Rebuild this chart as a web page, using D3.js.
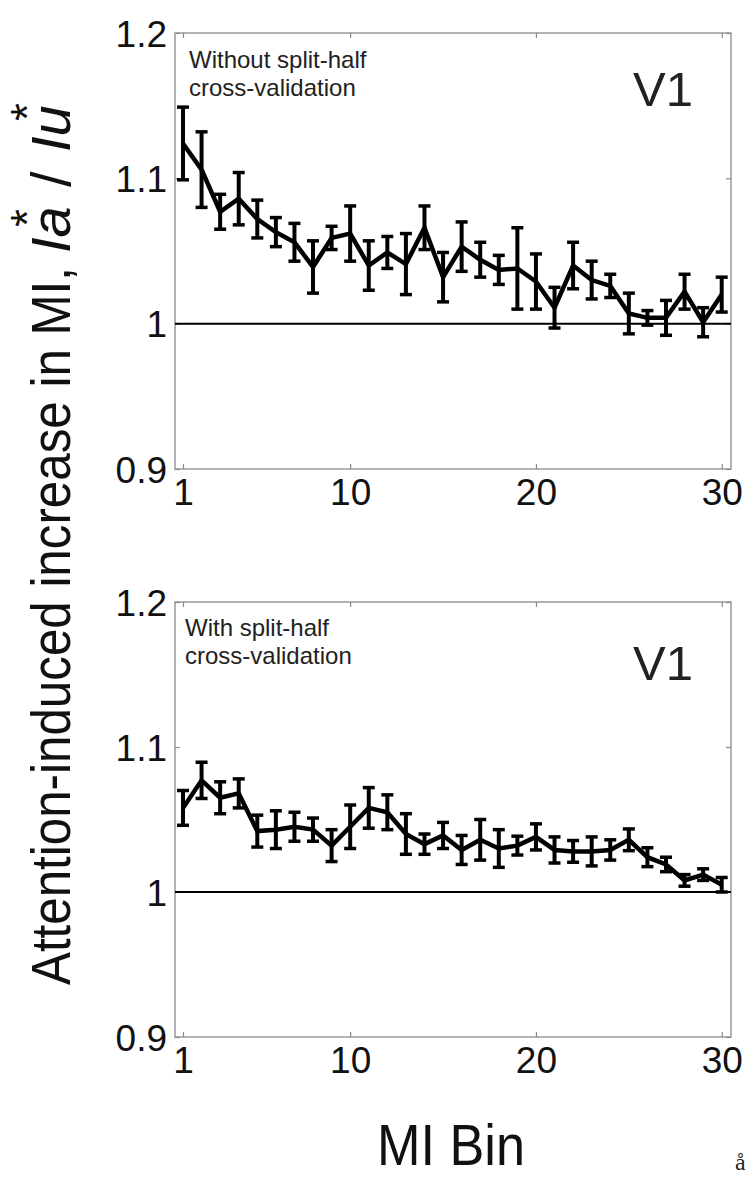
<!DOCTYPE html>
<html><head><meta charset="utf-8">
<script src="https://cdn.jsdelivr.net/npm/d3@7"></script>
<style>body{margin:0;background:#fff}</style>
</head><body>
<svg id="c" width="755" height="1180" xmlns="http://www.w3.org/2000/svg"></svg>
<script>
// ---- data ----
const bins = [1,2,3,4,5,6,7,8,9,10,11,12,13,14,15,16,17,18,19,20,21,22,23,24,25,26,27,28,29,30];
const topMean = [1.124,1.106,1.077,1.086,1.072,1.063,1.056,1.039,1.059,1.062,1.040,1.049,1.041,1.066,1.032,1.053,1.044,1.037,1.038,1.029,1.011,1.040,1.030,1.026,1.007,1.004,1.004,1.022,1.001,1.020];
const topErr  = [0.025,0.026,0.012,0.018,0.013,0.010,0.013,0.018,0.008,0.019,0.017,0.011,0.021,0.015,0.017,0.017,0.012,0.010,0.028,0.019,0.014,0.016,0.013,0.008,0.014,0.005,0.012,0.012,0.010,0.012];
const botMean = [1.058,1.077,1.065,1.068,1.042,1.043,1.045,1.043,1.032,1.045,1.058,1.055,1.040,1.033,1.039,1.029,1.036,1.030,1.032,1.038,1.029,1.028,1.028,1.029,1.036,1.024,1.019,1.008,1.012,1.005];
const botErr  = [0.012,0.0125,0.011,0.010,0.011,0.013,0.010,0.008,0.011,0.015,0.014,0.012,0.014,0.007,0.009,0.010,0.014,0.013,0.0065,0.009,0.009,0.0075,0.010,0.007,0.0075,0.0065,0.005,0.004,0.004,0.005];
const xTicks = [1,10,20,30];
const yTicks = [0.9,1.0,1.1,1.2];
const yTickLabels = ["0.9","1","1.1","1.2"];
const panels = [
  {mean: topMean, err: topErr, note: ["Without split-half","cross-validation"], area: "V1"},
  {mean: botMean, err: botErr, note: ["With split-half","cross-validation"], area: "V1"}
];

// ---- layout ----
const svg = d3.select("#c");
const L = 175, R = 731;
const panelBox = [{top: 33, bottom: 469}, {top: 602, bottom: 1037}];
const x = d3.scaleLinear().domain([0.57, 30.5]).range([L, R]);
const frameColor = "#8a8a8a";
const font = "'Liberation Sans', Arial, sans-serif";

panels.forEach((p, i) => {
  const box = panelBox[i];
  const y = d3.scaleLinear().domain([0.9, 1.2]).range([box.bottom, box.top]);
  const g = svg.append("g");

  // frame
  g.append("rect").attr("x", L).attr("y", box.top).attr("width", R - L).attr("height", box.bottom - box.top)
    .attr("fill", "none").attr("stroke", frameColor).attr("stroke-width", 1.3);

  // axes (ticks inward)
  const xb = d3.axisBottom(x).tickValues(xTicks).tickSizeInner(-5).tickSizeOuter(0).tickFormat(d3.format("d"));
  const xt = d3.axisTop(x).tickValues(xTicks).tickSizeInner(-5).tickSizeOuter(0).tickFormat("");
  const yl = d3.axisLeft(y).tickValues(yTicks).tickSizeInner(-5).tickSizeOuter(0).tickFormat((d, k) => yTickLabels[k]);
  const yr = d3.axisRight(y).tickValues(yTicks).tickSizeInner(-5).tickSizeOuter(0).tickFormat("");

  const ax = [
    g.append("g").attr("transform", `translate(0,${box.bottom})`).call(xb),
    g.append("g").attr("transform", `translate(0,${box.top})`).call(xt),
    g.append("g").attr("transform", `translate(${L},0)`).call(yl),
    g.append("g").attr("transform", `translate(${R},0)`).call(yr)
  ];
  ax.forEach(a => {
    a.select(".domain").remove();
    a.selectAll(".tick line").attr("stroke", frameColor).attr("stroke-width", 1.2);
    a.selectAll("text").attr("fill", "#111").style("font-family", font).style("font-size", "37px");
  });
  ax[0].selectAll("text").attr("y", 10).attr("dy", "0.71em");
  ax[2].selectAll("text").attr("x", -8).attr("dy", "0.36em");

  // reference line at 1
  g.append("line").attr("x1", L).attr("x2", R).attr("y1", y(1)).attr("y2", y(1))
    .attr("stroke", "#000").attr("stroke-width", 2);

  // error bars
  const data = bins.map((b, k) => ({b, m: p.mean[k], e: p.err[k]}));
  const eb = g.append("g").attr("stroke", "#000");
  eb.selectAll("line.v").data(data).join("line").attr("class", "v")
    .attr("x1", d => x(d.b)).attr("x2", d => x(d.b))
    .attr("y1", d => y(d.m - d.e)).attr("y2", d => y(d.m + d.e)).attr("stroke-width", 4);
  const cap = 6;
  eb.selectAll("line.ct").data(data).join("line").attr("class", "ct")
    .attr("x1", d => x(d.b) - cap).attr("x2", d => x(d.b) + cap)
    .attr("y1", d => y(d.m + d.e)).attr("y2", d => y(d.m + d.e)).attr("stroke-width", 3.5);
  eb.selectAll("line.cb").data(data).join("line").attr("class", "cb")
    .attr("x1", d => x(d.b) - cap).attr("x2", d => x(d.b) + cap)
    .attr("y1", d => y(d.m - d.e)).attr("y2", d => y(d.m - d.e)).attr("stroke-width", 3.5);

  // mean line
  g.append("path").datum(data)
    .attr("d", d3.line().x(d => x(d.b)).y(d => y(d.m)))
    .attr("fill", "none").attr("stroke", "#000").attr("stroke-width", 4.5).attr("stroke-linejoin", "miter");

  // annotation
  const nx = i === 0 ? 189 : 185;
  const ny = i === 0 ? 68 : 636;
  const t = g.append("text").attr("x", nx).attr("y", ny).attr("fill", "#222")
    .style("font-family", font).style("font-size", "24px");
  p.note.forEach((s, k) => t.append("tspan").attr("x", nx).attr("dy", k === 0 ? 0 : 28).text(s));

  g.append("text").attr("x", 693).attr("y", i === 0 ? 106 : 680).attr("text-anchor", "end")
    .attr("fill", "#222").style("font-family", font).style("font-size", "49px").text(p.area);
});

// y label (rotated)
const narrow = "'Liberation Sans Narrow', 'Arial Narrow', 'Liberation Sans', sans-serif";
const yl = svg.append("g").attr("transform", "translate(70,985) rotate(-90)")
  .style("font-family", narrow).attr("fill", "#111");
yl.append("text").attr("x", 0).attr("y", 0).style("font-size", "56px")
  .attr("textLength", 718).attr("lengthAdjust", "spacingAndGlyphs")
  .text("Attention-induced increase in MI,");
function italicPiece(x0, sub) {
  const t = yl.append("text").attr("x", x0).attr("y", 0).style("font-size", "56px").style("font-style", "italic");
  t.append("tspan").text("I");
  t.append("tspan").text(sub);
  return t;
}
italicPiece(732, "a");
yl.append("text").attr("x", 758).attr("y", -27).style("font-size", "46px").text("*");
yl.append("text").attr("x", 798).attr("y", 0).style("font-size", "56px").text("/");
italicPiece(833, "u");
yl.append("text").attr("x", 864).attr("y", -27).style("font-size", "46px").text("*");

// x label
svg.append("text").attr("x", 451).attr("y", 1165).attr("text-anchor", "middle")
  .attr("fill", "#111").style("font-family", font).style("font-size", "58px")
  .attr("textLength", 148).attr("lengthAdjust", "spacingAndGlyphs").text("MI Bin");

// stray glyph at bottom right
svg.append("text").attr("x", 735).attr("y", 1170).attr("fill", "#222")
  .style("font-family", "'Liberation Serif', serif").style("font-size", "24px").text("å");
</script>
</body></html>
